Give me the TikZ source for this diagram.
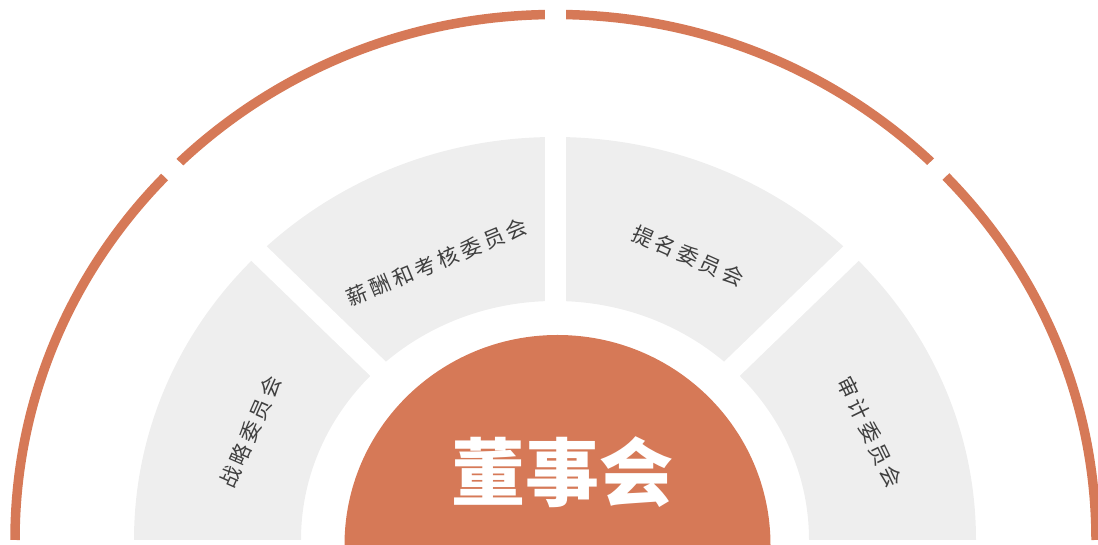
\documentclass[tikz,border=0pt]{standalone}
\usepackage{fontspec}
\newfontfamily\cjk{Noto Sans CJK SC}[LetterSpace=17]
\newfontfamily\cjkbig{Noto Sans CJK SC}
\definecolor{accent}{HTML}{D67957}
\definecolor{panel}{HTML}{EEEEEE}
\definecolor{ink}{HTML}{3F3F3F}
\begin{document}
\begin{tikzpicture}[x=1pt,y=1pt,
  lbl/.style={text=ink,font=\cjk\fontsize{21}{21}\selectfont,inner sep=0pt},
  gap/.style={white,line width=21pt}]
\useasboundingbox (0,0) rectangle (1098,545);
\clip (0,0) rectangle (1098,545);
% outer arc
\draw[accent,line width=9.5pt] (15,5) arc[start angle=180,end angle=0,x radius=540.5,y radius=525.5];
% grey ring
\fill[panel] (134,5) arc[start angle=180,end angle=0,x radius=421,y radius=403]
  -- (809,5) arc[start angle=0,end angle=180,x radius=254,y radius=239] -- cycle;
% gaps
\foreach \a in {45,90,135}
  \draw[gap] (555,5) -- ++({620*cos(\a)},{600*sin(\a)});
% centre
\fill[accent] (344.5,0) arc[start angle=180,end angle=0,x radius=213,y radius=210] -- cycle;
\node[text=white,font=\cjkbig\bfseries\fontsize{74}{74}\selectfont,inner sep=0pt] (board) at (562,73) {董事会};
\node[lbl,rotate=66] (s1) at (250,113) {战略委员会};
\node[lbl,rotate=22.5] (s2) at (437,283) {薪酬和考核委员会};
\node[lbl,rotate=-24] (s3) at (688,289) {提名委员会};
\node[lbl,rotate=-64] (s4) at (870,113) {审计委员会};
\end{tikzpicture}
\end{document}
